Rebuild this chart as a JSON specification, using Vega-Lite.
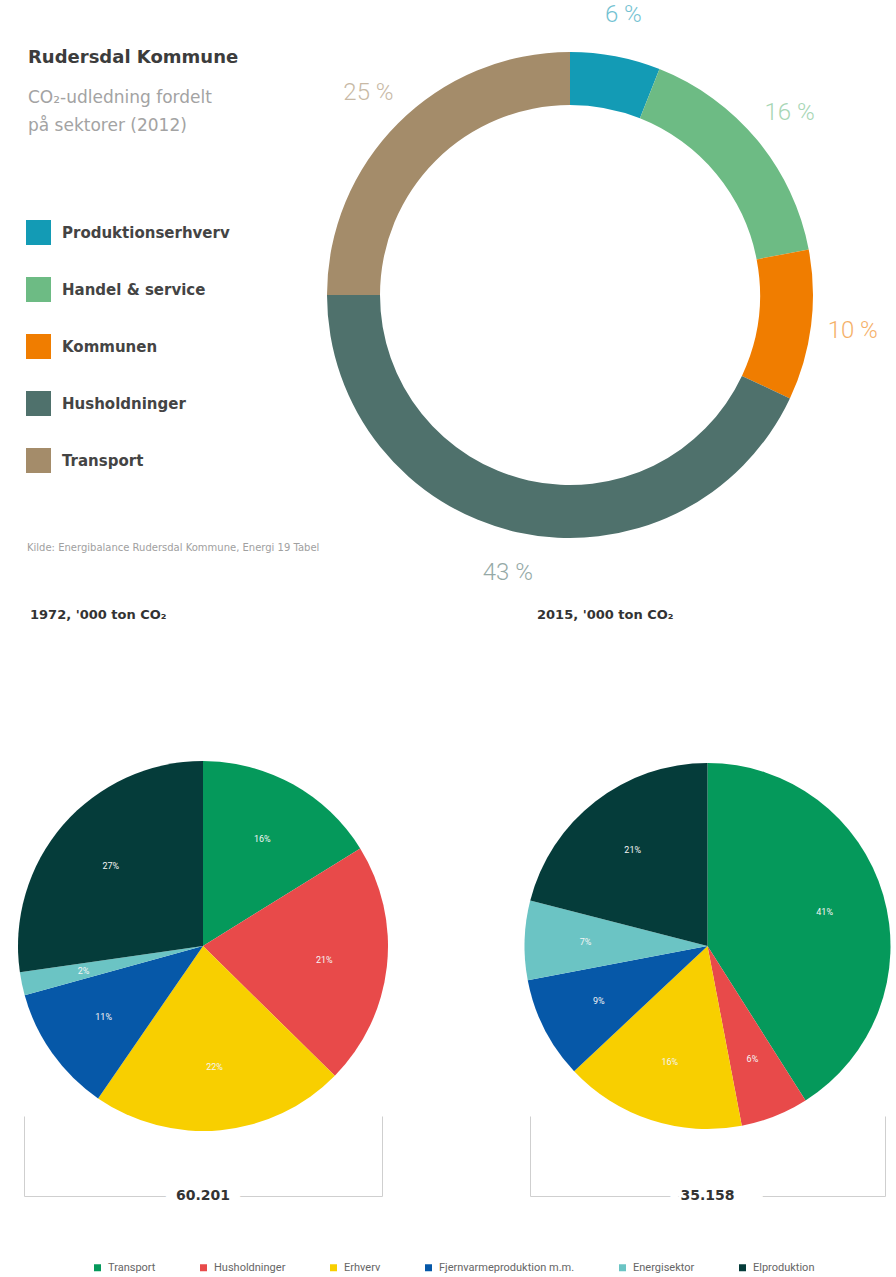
{
  "$schema": "https://vega.github.io/schema/vega-lite/v6.json",
  "background": "white",
  "padding": {"left": 18, "top": 0, "right": 0, "bottom": 0},
  "datasets": {
    "donut": [
      {"Sektor": "Produktionserhverv", "Andel": 6, "Label": "6 %", "Rank": 1},
      {"Sektor": "Handel & service", "Andel": 16, "Label": "16 %", "Rank": 2},
      {"Sektor": "Kommunen", "Andel": 10, "Label": "10 %", "Rank": 3},
      {"Sektor": "Husholdninger", "Andel": 43, "Label": "43 %", "Rank": 4},
      {"Sektor": "Transport", "Andel": 25, "Label": "25 %", "Rank": 5}
    ],
    "pie1972": [
      {"Sektor": "Transport", "Andel": 16, "Label": "16%", "Rank": 1},
      {"Sektor": "Husholdninger", "Andel": 21, "Label": "21%", "Rank": 2},
      {"Sektor": "Erhverv", "Andel": 22, "Label": "22%", "Rank": 3},
      {"Sektor": "Fjernvarmeproduktion m.m.", "Andel": 11, "Label": "11%", "Rank": 4},
      {"Sektor": "Energisektor", "Andel": 2, "Label": "2%", "Rank": 5},
      {"Sektor": "Elproduktion", "Andel": 27, "Label": "27%", "Rank": 6}
    ],
    "pie2015": [
      {"Sektor": "Transport", "Andel": 41, "Label": "41%", "Rank": 1},
      {"Sektor": "Husholdninger", "Andel": 6, "Label": "6%", "Rank": 2},
      {"Sektor": "Erhverv", "Andel": 16, "Label": "16%", "Rank": 3},
      {"Sektor": "Fjernvarmeproduktion m.m.", "Andel": 9, "Label": "9%", "Rank": 4},
      {"Sektor": "Energisektor", "Andel": 7, "Label": "7%", "Rank": 5},
      {"Sektor": "Elproduktion", "Andel": 21, "Label": "21%", "Rank": 6}
    ],
    "tot1972": [{"Aar": "1972", "Total": 60201}],
    "tot2015": [{"Aar": "2015", "Total": 35158}]
  },
  "columns": 2,
  "spacing": {"row": 64, "column": 148},
  "bounds": "flush",
  "align": "each",
  "resolve": {
    "scale": {"color": "independent", "theta": "independent"},
    "legend": {"color": "independent"}
  },
  "concat": [
    {
      "width": 358,
      "height": 697,
      "data": {"values": []},
      "mark": "point",
      "title": {
        "text": "Rudersdal Kommune",
        "subtitle": ["CO₂-udledning fordelt", "på sektorer (2012)"],
        "anchor": "start",
        "frame": "group",
        "dx": 4,
        "offset": -134,
        "font": "DejaVu Sans",
        "fontSize": 18,
        "fontWeight": "bold",
        "color": "#3c3c3c",
        "subtitleFont": "DejaVu Sans",
        "subtitleFontSize": 17,
        "subtitleFontWeight": "normal",
        "subtitleColor": "#a3a3a3",
        "subtitleLineHeight": 28,
        "subtitlePadding": 23
      }
    },
    {
      "width": 80,
      "height": 590,
      "data": {"name": "donut"},
      "title": {
        "text": "Kilde: Energibalance Rudersdal Kommune, Energi 19 Tabel",
        "orient": "bottom",
        "anchor": "start",
        "frame": "group",
        "dx": -503,
        "offset": -47,
        "font": "DejaVu Sans",
        "fontSize": 10,
        "fontWeight": "normal",
        "color": "#a0a0a0"
      },
      "encoding": {
        "theta": {"field": "Andel", "type": "quantitative", "stack": true},
        "order": {"field": "Rank", "type": "quantitative"},
        "color": {
          "field": "Sektor",
          "type": "nominal",
          "scale": {
            "domain": ["Produktionserhverv", "Handel & service", "Kommunen", "Husholdninger", "Transport"],
            "range": ["#139bb5", "#6dbb84", "#f07d00", "#4f716c", "#a48c6a"]
          },
          "legend": {
            "orient": "none",
            "legendX": -504,
            "legendY": 220,
            "title": null,
            "symbolType": "square",
            "symbolSize": 625,
            "symbolStrokeWidth": 0,
            "symbolOpacity": 1,
            "rowPadding": 32,
            "labelFont": "DejaVu Sans",
            "labelFontSize": 15,
            "labelFontWeight": "bold",
            "labelColor": "#444444",
            "labelOffset": 11,
            "labelLimit": 400
          }
        }
      },
      "layer": [
        {"mark": {"type": "arc", "outerRadius": 243, "innerRadius": 190}},
        {
          "mark": {"type": "text", "radius": 285, "font": "Roboto", "fontSize": 24, "fontWeight": 300, "opacity": 0.6},
          "encoding": {"text": {"field": "Label", "type": "nominal"}}
        }
      ]
    },
    {
      "width": 358,
      "height": 370,
      "data": {"name": "pie1972"},
      "title": {
        "text": "1972, '000 ton CO₂",
        "anchor": "start",
        "frame": "group",
        "dx": 6,
        "offset": 139,
        "font": "DejaVu Sans",
        "fontSize": 13,
        "fontWeight": "bold",
        "color": "#333333"
      },
      "encoding": {
        "theta": {"field": "Andel", "type": "quantitative", "stack": true},
        "order": {"field": "Rank", "type": "quantitative"},
        "color": {
          "field": "Sektor",
          "type": "nominal",
          "scale": {
            "domain": ["Transport", "Husholdninger", "Erhverv", "Fjernvarmeproduktion m.m.", "Energisektor", "Elproduktion"],
            "range": ["#05995b", "#e84a4a", "#f8cf00", "#0658a8", "#6bc4c4", "#053c3a"]
          },
          "legend": {
            "orient": "none",
            "legendX": 68,
            "legendY": 501,
            "direction": "horizontal",
            "title": null,
            "symbolType": "square",
            "symbolSize": 49,
            "symbolStrokeWidth": 0,
            "symbolOpacity": 1,
            "labelFont": "Roboto",
            "labelFontSize": 11,
            "labelColor": "#666666",
            "labelOffset": 5,
            "labelLimit": 300,
            "columnPadding": 42
          }
        }
      },
      "layer": [
        {"mark": {"type": "arc", "outerRadius": 185}},
        {
          "mark": {"type": "text", "radius": 122, "font": "Roboto", "fontSize": 9},
          "encoding": {"text": {"field": "Label", "type": "nominal"}, "color": {"value": "#f4f4f4"}}
        }
      ]
    },
    {
      "width": 355,
      "height": 370,
      "data": {"name": "pie2015"},
      "title": {
        "text": "2015, '000 ton CO₂",
        "anchor": "start",
        "frame": "group",
        "dx": 7,
        "offset": 139,
        "font": "DejaVu Sans",
        "fontSize": 13,
        "fontWeight": "bold",
        "color": "#333333"
      },
      "encoding": {
        "theta": {"field": "Andel", "type": "quantitative", "stack": true},
        "order": {"field": "Rank", "type": "quantitative"},
        "color": {
          "field": "Sektor",
          "type": "nominal",
          "scale": {
            "domain": ["Transport", "Husholdninger", "Erhverv", "Fjernvarmeproduktion m.m.", "Energisektor", "Elproduktion"],
            "range": ["#05995b", "#e84a4a", "#f8cf00", "#0658a8", "#6bc4c4", "#053c3a"]
          },
          "legend": null
        }
      },
      "layer": [
        {"mark": {"type": "arc", "outerRadius": 183}},
        {
          "mark": {"type": "text", "radius": 122, "font": "Roboto", "fontSize": 9},
          "encoding": {"text": {"field": "Label", "type": "nominal"}, "color": {"value": "#f4f4f4"}}
        }
      ]
    },
    {
      "width": 358,
      "height": 1,
      "data": {"name": "tot1972"},
      "encoding": {
        "x": {
          "field": "Total",
          "type": "nominal",
          "scale": {"type": "band", "paddingInner": 0, "paddingOuter": 0},
          "axis": {
            "orient": "bottom",
            "title": null,
            "labels": false,
            "domainColor": "#cfcfcf",
            "tickColor": "#cfcfcf",
            "tickBand": "extent",
            "tickSize": -80,
            "zindex": 0
          }
        },
        "text": {"field": "Total", "type": "quantitative", "format": ",d"}
      },
      "layer": [
        {"mark": {"type": "text", "font": "DejaVu Sans", "fontSize": 14, "fontWeight": "bold", "fill": "white", "stroke": "white", "strokeWidth": 22}},
        {"mark": {"type": "text", "font": "DejaVu Sans", "fontSize": 14, "fontWeight": "bold", "color": "#333333"}}
      ]
    },
    {
      "width": 355,
      "height": 1,
      "data": {"name": "tot2015"},
      "encoding": {
        "x": {
          "field": "Total",
          "type": "nominal",
          "scale": {"type": "band", "paddingInner": 0, "paddingOuter": 0},
          "axis": {
            "orient": "bottom",
            "title": null,
            "labels": false,
            "domainColor": "#cfcfcf",
            "tickColor": "#cfcfcf",
            "tickBand": "extent",
            "tickSize": -80,
            "zindex": 0
          }
        },
        "text": {"field": "Total", "type": "quantitative", "format": ",d"}
      },
      "layer": [
        {"mark": {"type": "text", "font": "DejaVu Sans", "fontSize": 14, "fontWeight": "bold", "fill": "white", "stroke": "white", "strokeWidth": 22}},
        {"mark": {"type": "text", "font": "DejaVu Sans", "fontSize": 14, "fontWeight": "bold", "color": "#333333"}}
      ]
    }
  ],
  "config": {
    "view": {"stroke": null},
    "font": "Roboto",
    "locale": {
      "number": {"decimal": ",", "thousands": ".", "grouping": [3], "currency": ["", " kr."]}
    }
  }
}
